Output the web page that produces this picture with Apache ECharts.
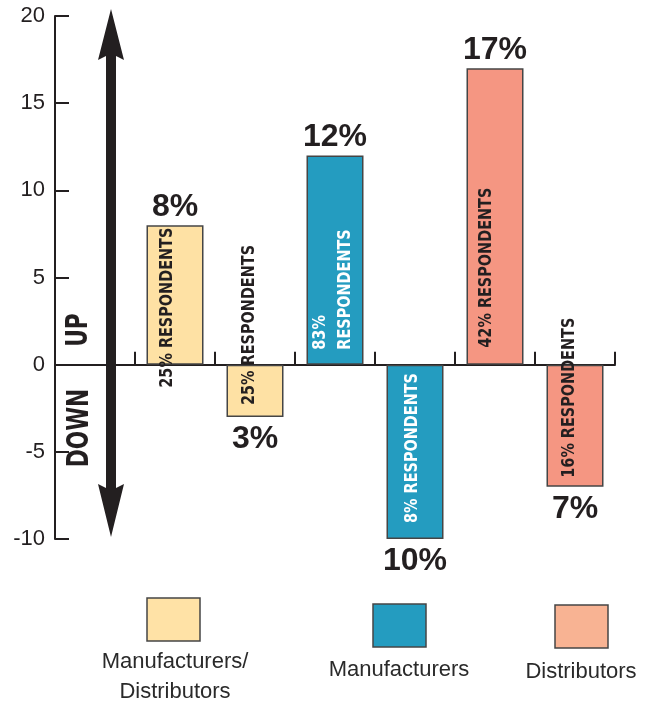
<!DOCTYPE html>
<html>
<head>
<meta charset="utf-8">
<script src="https://cdn.jsdelivr.net/npm/echarts@6/dist/echarts.min.js"></script>
<style>
  html, body { margin: 0; padding: 0; background: #ffffff; }
  #chart { width: 656px; height: 707px; }
</style>
</head>
<body>
<div id="chart"></div>
<script>
// ---- data ----
const segments = ['Manufacturers/\nDistributors', 'Manufacturers', 'Distributors'];
const categories = [
  'Manufacturers/Distributors up', 'Manufacturers/Distributors down',
  'Manufacturers up', 'Manufacturers down',
  'Distributors up', 'Distributors down'
];
const segmentOfBar = [0, 0, 1, 1, 2, 2];
const changePct = [8, -3, 12, -10, 17, -7];        // bar height, % change
const respondentPct = [25, 25, 83, 8, 42, 16];     // share of respondents
const yMin = -10, yMax = 20, yStep = 5;

// ---- styles ----
const ink = '#231f20';
const barColors = ['#fee1a4', '#249cc0', '#f59682'];
const keyColors = ['#ffe2a6', '#249cc0', '#f8b393'];
const respondentInk = ['#231f20', '#231f20', '#ffffff', '#ffffff', '#231f20', '#231f20'];
const heavy = '"DejaVu Sans", sans-serif';
const squeeze = 0.78;   // horizontal squeeze that turns the bold face into a condensed one
// [shift along text, shift across text] for each rotated respondents label
const respondentNudge = [[-23, -8], [12, -6], [15, -2], [16, -3], [17, -9], [9, -6]];

const chart = echarts.init(document.getElementById('chart'), null, { renderer: 'canvas' });

// first category slot is left empty: it carries the up/down arrow
const axisCats = [''].concat(categories);

const valueData = ['-'].concat(changePct.map((v, i) => ({
  value: v,
  itemStyle: { color: barColors[segmentOfBar[i]] },
  label: { position: v < 0 ? 'bottom' : 'top', distance: v < 0 ? 6 : 2 }
})));

const respondentData = changePct.map((v, i) => [i + 1, v, i]);

function renderRespondents(params, api) {
  const slot = api.value(0);
  const v = api.value(1);
  const k = api.value(2);
  const base = api.coord([slot, 0]);
  const end = api.coord([slot, v]);
  const bottomY = Math.max(base[1], end[1]);
  const nudge = respondentNudge[k];
  const text = k === 2
    ? respondentPct[k] + '%\nRESPONDENTS'
    : respondentPct[k] + '% RESPONDENTS';
  return {
    type: 'text',
    x: base[0] + nudge[1],
    y: bottomY - nudge[0],
    rotation: Math.PI / 2,
    scaleX: squeeze,
    style: {
      text: text,
      font: 'bold 18.5px ' + heavy,
      fill: respondentInk[k],
      align: 'left',
      verticalAlign: 'middle',
      lineHeight: 25
    }
  };
}

chart.setOption({
  animation: false,
  backgroundColor: '#ffffff',
  grid: { left: 55, right: 41, top: 16, bottom: 168, containLabel: false },
  xAxis: {
    type: 'category',
    data: axisCats,
    boundaryGap: true,
    axisLine: { onZero: true, lineStyle: { color: ink, width: 2 } },
    axisTick: { show: true, inside: true, length: 13, interval: 0, alignWithLabel: false, lineStyle: { color: ink, width: 2 } },
    axisLabel: { show: false, interval: 0 },
    splitLine: { show: false }
  },
  yAxis: {
    type: 'value',
    min: yMin, max: yMax, interval: yStep,
    axisLine: { show: true, lineStyle: { color: ink, width: 2 } },
    axisTick: { show: true, inside: true, length: 14, lineStyle: { color: ink, width: 2 } },
    axisLabel: { fontSize: 22, color: ink, margin: 10, fontFamily: '"Liberation Sans", Arial, sans-serif' },
    splitLine: { show: false }
  },
  series: [
    {
      name: 'change',
      type: 'bar',
      data: valueData,
      barWidth: 57,
      itemStyle: { borderColor: '#454545', borderWidth: 1.5 },
      label: {
        show: true,
        formatter: p => Math.abs(p.value) + '%',
        fontSize: 32,
        fontWeight: 'bold',
        fontFamily: '"Liberation Sans", Arial, sans-serif',
        color: ink
      },
      z: 2
    },
    {
      name: 'respondents',
      type: 'custom',
      data: respondentData,
      encode: { x: 0, y: 1 },
      renderItem: renderRespondents,
      silent: true,
      z: 3
    }
  ]
});

// ---- direction arrow, UP / DOWN and the colour key ----
const arrowX = 111;
const arrow = [
  [arrowX, 9], [arrowX + 13, 60], [arrowX + 5, 56], [arrowX + 5, 488], [arrowX + 13, 484],
  [arrowX, 537], [arrowX - 13, 484], [arrowX - 5, 488], [arrowX - 5, 56], [arrowX - 13, 60]
];

const keySpots = [
  { x: 147, y: 598, tx: 175, ty: 677 },
  { x: 373, y: 604, tx: 399, ty: 670 },
  { x: 555, y: 605, tx: 581, ty: 672 }
];

const graphics = [
  { type: 'polygon', shape: { points: arrow }, style: { fill: ink }, z: 10 },
  {
    type: 'text', x: 79, y: 330, rotation: Math.PI / 2, scaleX: 0.7,
    style: { text: 'UP', font: 'bold 31px ' + heavy, fill: ink, align: 'center', verticalAlign: 'middle' }, z: 10
  },
  {
    type: 'text', x: 80, y: 428, rotation: Math.PI / 2, scaleX: 0.7,
    style: { text: 'DOWN', font: 'bold 31px ' + heavy, fill: ink, align: 'center', verticalAlign: 'middle' }, z: 10
  }
];

segments.forEach((name, k) => {
  const s = keySpots[k];
  graphics.push({
    type: 'rect', shape: { x: s.x, y: s.y, width: 53, height: 43 },
    style: { fill: keyColors[k], stroke: '#454545', lineWidth: 1.5 }, z: 10
  });
  graphics.push({
    type: 'text', x: s.tx, y: s.ty,
    style: {
      text: name, fill: '#2a2a2a', font: '22px "Liberation Sans", Arial, sans-serif',
      align: 'center', verticalAlign: 'middle', lineHeight: 30
    }, z: 10
  });
});

chart.setOption({ graphic: graphics });
</script>
</body>
</html>
